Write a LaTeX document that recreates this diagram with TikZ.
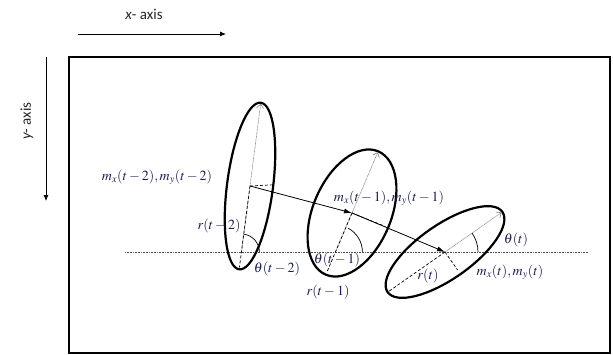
\documentclass[tikz,border=0pt]{standalone}
\usepackage{mathptmx}
\usepackage[no-math]{fontspec}
\newfontfamily\axisfont{Carlito}
\usetikzlibrary{arrows.meta,calc}
\definecolor{lbl}{RGB}{28,32,78}
\tikzset{
  ell/.style={line width=2.2pt},
  frame/.style={line width=2pt},
  traj/.style={line width=0.8pt,-{Latex[length=8pt,width=5pt]}},
  majarrow/.style={gray,line width=0.6pt,dash pattern=on 0.8pt off 0.6pt,-{Straight Barb[length=4pt,width=7pt]}},
  dsh/.style={line width=0.7pt,dash pattern=on 3pt off 2pt},
  angarc/.style={line width=0.7pt},
  base/.style={black!70,line width=0.7pt,dash pattern=on 0.8pt off 0.8pt},
  axarrow/.style={line width=0.8pt,-{Latex[length=6pt,width=5pt]}},
  lab/.style={text=lbl,font=\fontsize{14}{16}\selectfont,inner sep=0pt},
  axlab/.style={font=\axisfont\fontsize{15}{17}\selectfont,inner sep=0pt,text=black!85}
}
\begin{document}
\begin{tikzpicture}[x=1pt,y=-1pt]
\useasboundingbox (0,0) rectangle (613,354);
% axes
\coordinate (xa0) at (78,34); \coordinate (xa1) at (226,34);
\coordinate (ya0) at (46,57); \coordinate (ya1) at (46,201);
\draw[axarrow] (xa0) -- (xa1);
\draw[axarrow] (ya0) -- (ya1);
\node[axlab] (xlab) at (144,14) {\itshape x\upshape- axis};
\node[axlab,rotate=90] (ylab) at (27,121) {\itshape y\upshape- axis};
% frame
\draw[frame] (69,57) rectangle (610,353);
% baseline
\coordinate (bl0) at (125,252); \coordinate (bl1) at (588,252);
\draw[base] (bl0) -- (bl1);
% centres
\coordinate (c1) at (250,186);
\coordinate (c2) at (352,213);
\coordinate (c3) at (445,252);
\coordinate (b1) at (241.4,252);
\coordinate (b2) at (335.4,252);
\coordinate (b3) at (445,252);
% ellipse 1
\draw[ell,rotate around={82.6:(c1)}] (c1) ellipse [x radius=84pt,y radius=23pt];
\coordinate (t1) at ($(c1)+(82.6:83pt)$);
\coordinate (d1) at ($(c1)+(262.6:82pt)$);
\coordinate (m1) at ($(c1)+(3:22pt)$);
\draw[majarrow] (b1) -- (t1);
\draw[dsh] (c1) -- (d1);
\draw[dsh] (c1) -- (m1);
\draw[angarc] ($(b1)+(0:18pt)$) arc[start angle=0,end angle=82.6,radius=18pt];
% ellipse 2
\draw[ell,rotate around={67:(c2)}] (c2) ellipse [x radius=67pt,y radius=39pt];
\coordinate (t2) at ($(c2)+(67:66pt)$);
\coordinate (d2) at ($(c2)+(247:65pt)$);
\coordinate (m2) at ($(c2)+(-22:36pt)$);
\draw[majarrow] (b2) -- (t2);
\draw[dsh] (c2) -- (d2);
\draw[dsh] (c2) -- (m2);
\draw[angarc] ($(b2)+(0:27pt)$) arc[start angle=0,end angle=62,radius=27pt];
% ellipse 3
\draw[ell,rotate around={35:(c3)}] (c3) ellipse [x radius=70pt,y radius=27pt];
\coordinate (t3) at ($(c3)+(35:69pt)$);
\coordinate (d3) at ($(c3)+(215:69pt)$);
\coordinate (m3) at ($(c3)+(-55:22pt)$);
\draw[majarrow] (b3) -- (t3);
\draw[dsh] (c3) -- (d3);
\draw[dsh] (c3) -- (m3);
\draw[angarc] ($(b3)+(0:33pt)$) arc[start angle=0,end angle=35,radius=33pt];
% trajectory
\draw[traj] (c1) -- (c2);
\draw[traj] (c2) -- (c3);
% labels
\node[lab] (L1) at (157,177) {$m_x(t-2), m_y(t-2)$};
\node[lab] (R1) at (219,226) {$r(t-2)$};
\node[lab] (T1) at (277,269) {$\theta(t-2)$};
\node[lab] (L2) at (389,198) {$m_x(t-1), m_y(t-1)$};
\node[lab] (T2) at (337,260) {$\theta(t-1)$};
\node[lab] (R2) at (328,292) {$r(t-1)$};
\node[lab] (T3) at (516,240) {$\theta(t)$};
\node[lab] (R3) at (428,276) {$r(t)$};
\node[lab] (L3) at (510,272) {$m_x(t), m_y(t)$};
\end{tikzpicture}
\end{document}
